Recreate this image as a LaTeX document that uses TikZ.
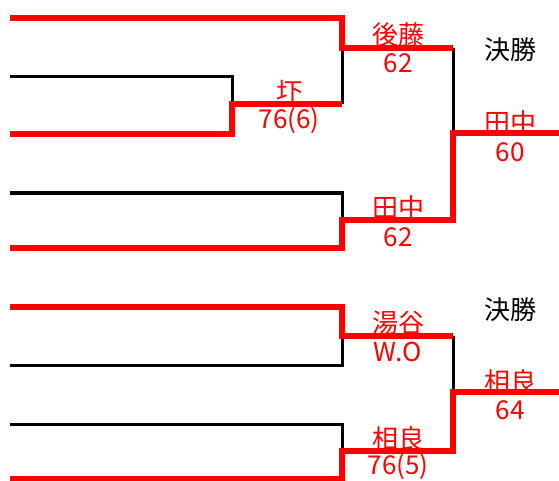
\documentclass[tikz,border=0pt]{standalone}
\usepackage{fontspec}
\setmainfont{Noto Sans CJK JP}
\begin{document}
\begin{tikzpicture}[x=1pt,y=-1pt,
  win/.style={draw=red,line width=6pt},
  lose/.style={draw=black,line width=3pt},
  player/.style={text=red,inner sep=0pt,font=\fontsize{26}{26}\selectfont},
  score/.style={text=red,inner sep=0pt,font=\fontsize{26}{26}\selectfont},
  title/.style={text=black,inner sep=0pt,font=\fontsize{26}{26}\selectfont}]
\useasboundingbox (0,0) rectangle (559,481);
% upper block
\coordinate (a1) at (10,18);
\coordinate (a2) at (10,77);
\coordinate (a3) at (10,134);
\coordinate (a4) at (10,193);
\coordinate (a5) at (10,248);
\coordinate (r1) at (232,104);
\coordinate (s1) at (342,48);
\coordinate (s2) at (342,220);
\coordinate (f1) at (453,133);
\coordinate (e1) at (559,133);
\draw[lose] (a2) -| (r1);
\draw[lose] (s1) -- (s1 |- r1);
\draw[lose] (s1 -| f1) -- (f1);
\draw[lose] (a4) -| (s2);
\draw[win] (a1) -| (s1) -- (s1 -| f1);
\draw[win] (a3) -| (r1) -- (s1 |- r1);
\draw[win] (a5) -| (s2) -- (s2 -| f1) -- (f1) -- (e1);
% lower block
\coordinate (b1) at (10,307);
\coordinate (b2) at (10,365);
\coordinate (b3) at (10,424);
\coordinate (b4) at (10,479);
\coordinate (t1) at (342,336);
\coordinate (t2) at (342,451);
\coordinate (g1) at (453,392);
\coordinate (h1) at (559,392);
\draw[lose] (b2) -| (t1);
\draw[lose] (t1 -| g1) -- (g1);
\draw[lose] (b3) -| (t2);
\draw[win] (b1) -| (t1) -- (t1 -| g1);
\draw[win] (b4) -| (t2) -- (t2 -| g1) -- (g1) -- (h1);
% labels
\node[player] (goto) at (398,35) {後藤};
\node[score] (gotoscore) at (398,63) {62};
\node[player] (akutsu) at (289,92) {圷};
\node[score] (akutsuscore) at (289,120) {76(6)};
\node[player] (tanaka) at (398,208) {田中};
\node[score] (tanakascore) at (398,237) {62};
\node[title] (final1) at (510,50) {決勝};
\node[player] (champ1) at (510,123) {田中};
\node[score] (champ1score) at (510,152) {60};
\node[player] (yuya) at (398,323) {湯谷};
\node[score] (yuyascore) at (398,352) {W.O};
\node[player] (aira) at (398,439) {相良};
\node[score] (airascore) at (398,466) {76(5)};
\node[title] (final2) at (510,310) {決勝};
\node[player] (champ2) at (510,382) {相良};
\node[score] (champ2score) at (510,410) {64};
\end{tikzpicture}
\end{document}
